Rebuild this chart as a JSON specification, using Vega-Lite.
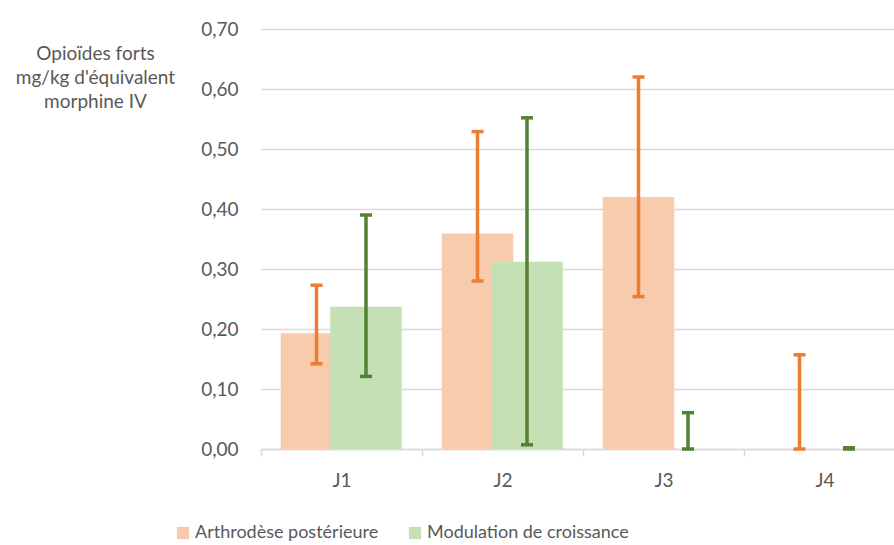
{
  "$schema": "https://vega.github.io/schema/vega-lite/v6.json",
  "width": 633,
  "height": 420,
  "autosize": {"type": "none"},
  "padding": {"left": 261, "top": 29, "right": 0, "bottom": 96},
  "config": {"view": {"stroke": null}, "font": "Lato"},
  "data": {
    "values": [
      {"day": "J1", "series": "Arthrodèse postérieure", "value": 0.193, "low": 0.142, "high": 0.273},
      {"day": "J2", "series": "Arthrodèse postérieure", "value": 0.359, "low": 0.28, "high": 0.529},
      {"day": "J3", "series": "Arthrodèse postérieure", "value": 0.42, "low": 0.254, "high": 0.62},
      {"day": "J4", "series": "Arthrodèse postérieure", "value": 0.0, "low": 0.0, "high": 0.157},
      {"day": "J1", "series": "Modulation de croissance", "value": 0.237, "low": 0.121, "high": 0.39},
      {"day": "J2", "series": "Modulation de croissance", "value": 0.312, "low": 0.007, "high": 0.552},
      {"day": "J3", "series": "Modulation de croissance", "value": 0.0, "low": 0.0, "high": 0.0605},
      {"day": "J4", "series": "Modulation de croissance", "value": 0.0, "low": 0.0, "high": 0.002}
    ]
  },
  "encoding": {
    "x": {
      "field": "day",
      "type": "nominal",
      "sort": ["J1", "J2", "J3", "J4"],
      "scale": {"range": [0, 644], "paddingInner": 0, "paddingOuter": 0},
      "axis": {
        "title": null,
        "labelAngle": 0,
        "labelFontSize": 19,
        "labelColor": "#595959",
        "labelPadding": 15,
        "domainColor": "#D9D9D9",
        "domainWidth": 1.5,
        "tickColor": "#D9D9D9",
        "tickWidth": 1.5,
        "tickSize": 7,
        "tickBand": "extent",
        "grid": false
      }
    }
  },
  "layer": [
    {
      "transform": [{"filter": "datum.series === 'Arthrodèse postérieure'"}],
      "mark": {"type": "bar", "width": 71.5, "xOffset": -25},
      "encoding": {
        "y": {
          "field": "value",
          "type": "quantitative",
          "scale": {"domain": [0, 0.7], "nice": false},
          "axis": {
            "values": [0, 0.1, 0.2, 0.3, 0.4, 0.5, 0.6, 0.7],
            "labelExpr": "replace(format(datum.value, '.2f'), '.', ',')",
            "labelFontSize": 19,
            "labelColor": "#595959",
            "labelPadding": 23,
            "ticks": false,
            "domain": false,
            "gridColor": "#D9D9D9",
            "gridWidth": 1.5,
            "title": ["Opioïdes forts", "mg/kg d'équivalent", "morphine IV"],
            "titleAngle": 0,
            "titleAlign": "center",
            "titleBaseline": "top",
            "titleX": -166,
            "titleY": 15,
            "titleFontSize": 19,
            "titleFontWeight": "normal",
            "titleColor": "#595959",
            "titleLineHeight": 24
          }
        },
        "color": {
          "field": "series",
          "type": "nominal",
          "scale": {
            "domain": ["Arthrodèse postérieure", "Modulation de croissance"],
            "range": ["#F8CBAD", "#C5E0B4"]
          },
          "legend": {
            "orient": "none",
            "legendX": -87,
            "legendY": 495,
            "direction": "horizontal",
            "title": null,
            "symbolType": "square",
            "symbolSize": 150,
            "symbolStrokeWidth": 0,
            "symbolOpacity": 1,
            "labelFontSize": 18,
            "labelLimit": 0,
            "labelColor": "#595959",
            "labelOffset": 3,
            "columnPadding": 27
          }
        }
      }
    },
    {
      "transform": [{"filter": "datum.series === 'Modulation de croissance'"}],
      "mark": {"type": "bar", "width": 71.5, "xOffset": 24.5},
      "encoding": {
        "y": {"field": "value", "type": "quantitative"},
        "color": {"field": "series", "type": "nominal"}
      }
    },
    {
      "transform": [{"filter": "datum.series === 'Arthrodèse postérieure'"}],
      "mark": {"type": "rule", "xOffset": -25, "color": "#ED7D31", "strokeWidth": 3.5},
      "encoding": {
        "y": {"field": "low", "type": "quantitative"},
        "y2": {"field": "high"}
      }
    },
    {
      "transform": [{"filter": "datum.series === 'Arthrodèse postérieure'"}],
      "mark": {"type": "tick", "xOffset": -25, "color": "#ED7D31", "size": 12, "thickness": 3.5, "opacity": 1},
      "encoding": {"y": {"field": "low", "type": "quantitative"}}
    },
    {
      "transform": [{"filter": "datum.series === 'Arthrodèse postérieure'"}],
      "mark": {"type": "tick", "xOffset": -25, "color": "#ED7D31", "size": 12, "thickness": 3.5, "opacity": 1},
      "encoding": {"y": {"field": "high", "type": "quantitative"}}
    },
    {
      "transform": [{"filter": "datum.series === 'Modulation de croissance'"}],
      "mark": {"type": "rule", "xOffset": 24.5, "color": "#548235", "strokeWidth": 3.5},
      "encoding": {
        "y": {"field": "low", "type": "quantitative"},
        "y2": {"field": "high"}
      }
    },
    {
      "transform": [{"filter": "datum.series === 'Modulation de croissance'"}],
      "mark": {"type": "tick", "xOffset": 24.5, "color": "#548235", "size": 12, "thickness": 3.5, "opacity": 1},
      "encoding": {"y": {"field": "low", "type": "quantitative"}}
    },
    {
      "transform": [{"filter": "datum.series === 'Modulation de croissance'"}],
      "mark": {"type": "tick", "xOffset": 24.5, "color": "#548235", "size": 12, "thickness": 3.5, "opacity": 1},
      "encoding": {"y": {"field": "high", "type": "quantitative"}}
    }
  ]
}
